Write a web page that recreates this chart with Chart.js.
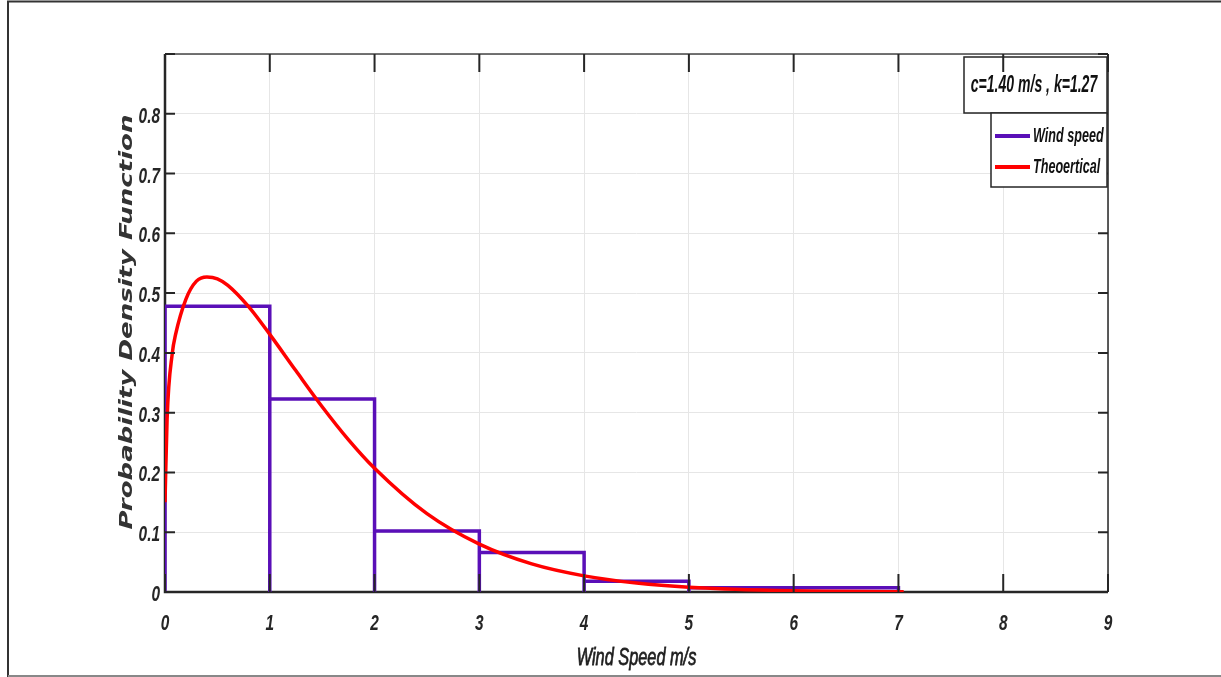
<!DOCTYPE html>
<html>
<head>
<meta charset="utf-8">
<script src="https://cdn.jsdelivr.net/npm/chart.js@4"></script>
<style>
  html, body { margin: 0; padding: 0; background: #fff; }
  canvas { display: block; }
</style>
</head>
<body>
<canvas id="pdfChart" width="1221" height="677"></canvas>
<script>
/* Weibull fit vs. measured wind-speed histogram */

const SANS = "'Liberation Sans', Arial, sans-serif";
const INK = '#262626';
const PURPLE = '#5a0fb8';
const RED = '#ff0000';

// histogram bins (edges in m/s) and their densities
const binEdges = [0, 1, 2, 3, 4, 5, 7];
const binHeights = [0.478, 0.323, 0.102, 0.066, 0.018, 0.007];

// theoretical curve
const curveX = [0, 0.02, 0.07, 0.1, 0.2, 0.3, 0.4, 0.5, 0.6, 0.8, 1.0, 1.25, 1.5, 1.75, 2.0, 2.5, 3.0, 3.5, 4.0, 4.5, 5.0, 6.0, 7.05];
const curveY = [0.15, 0.29, 0.40, 0.43, 0.49, 0.52, 0.527, 0.524, 0.513, 0.477, 0.431, 0.37, 0.31, 0.255, 0.207, 0.131, 0.080, 0.047, 0.027, 0.015, 0.008, 0.002, 0.0006];

const xTicks = [0, 1, 2, 3, 4, 5, 6, 7, 8, 9];
const yTicks = [0, 0.1, 0.2, 0.3, 0.4, 0.5, 0.6, 0.7, 0.8, 0.9];
const yLabels = ['0', '0.1', '0.2', '0.3', '0.4', '0.5', '0.6', '0.7', '0.8', ''];

const annotation = 'c=1.40 m/s , k=1.27';
const xTitle = 'Wind Speed m/s';
const yTitle = 'Probability Density Function';

// outline of the histogram bars as one stepped path
function histOutline() {
  const pts = [];
  for (let i = 0; i < binHeights.length; i++) {
    pts.push({ x: binEdges[i], y: 0 }, { x: binEdges[i], y: binHeights[i] },
             { x: binEdges[i + 1], y: binHeights[i] }, { x: binEdges[i + 1], y: 0 });
  }
  return pts;
}

// the source figure is squeezed sideways, so text is drawn compressed in x
function narrowText(ctx, text, x, y, font, sx, align, heavy) {
  ctx.save();
  ctx.translate(x, y);
  ctx.scale(sx, 1);
  ctx.font = font;
  ctx.textAlign = align;
  ctx.textBaseline = 'alphabetic';
  ctx.fillText(text, 0, 0);
  if (heavy) { ctx.strokeStyle = ctx.fillStyle; ctx.lineWidth = heavy; ctx.strokeText(text, 0, 0); }
  ctx.restore();
}

const decorPlugin = {
  id: 'decor',
  beforeDatasetsDraw(chart) {
    const { ctx, chartArea: a } = chart;
    ctx.save();
    ctx.strokeStyle = '#444'; ctx.lineWidth = 1.5;
    ctx.beginPath(); ctx.moveTo(a.left, a.top); ctx.lineTo(a.right, a.top); ctx.stroke();
    ctx.strokeStyle = INK;
    ctx.beginPath(); ctx.moveTo(a.right, a.top); ctx.lineTo(a.right, a.bottom); ctx.stroke();
    ctx.lineWidth = 2.5;
    ctx.beginPath(); ctx.moveTo(a.left, a.top); ctx.lineTo(a.left, a.bottom); ctx.lineTo(a.right, a.bottom); ctx.stroke();
    ctx.restore();
  },
  afterDatasetsDraw(chart) {
    const { ctx, chartArea: a, scales } = chart;
    ctx.save();

    // y tick marks (left and right, pointing inward) sit under the legend
    ctx.strokeStyle = INK; ctx.lineWidth = 2;
    yTicks.forEach((v) => {
      const py = scales.y.getPixelForValue(v);
      ctx.beginPath();
      ctx.moveTo(a.left, py); ctx.lineTo(a.left + 10, py);
      ctx.moveTo(a.right, py); ctx.lineTo(a.right - 10, py);
      ctx.stroke();
    });

    // parameter box
    ctx.fillStyle = '#fff'; ctx.strokeStyle = INK; ctx.lineWidth = 1.5;
    ctx.fillRect(964, 57, 143, 56); ctx.strokeRect(964, 57, 143, 56);
    ctx.fillStyle = '#111';
    narrowText(ctx, annotation, 1034, 92, `italic bold 23px ${SANS}`, 0.61, 'center');

    // legend box
    ctx.fillStyle = '#fff';
    ctx.fillRect(991, 113, 116, 74); ctx.strokeRect(991, 113, 116, 74);
    chart.data.datasets.forEach((ds, i) => {
      const y = 136 + i * 31;
      ctx.strokeStyle = ds.borderColor; ctx.lineWidth = 4;
      ctx.beginPath(); ctx.moveTo(995, y); ctx.lineTo(1030, y); ctx.stroke();
      ctx.fillStyle = '#111';
      narrowText(ctx, ds.label, 1033, y + 6, `italic bold 21px ${SANS}`, 0.6, 'left');
    });

    // x tick marks (bottom and top, pointing inward)
    ctx.strokeStyle = INK; ctx.lineWidth = 2;
    xTicks.forEach((v) => {
      const px = scales.x.getPixelForValue(v);
      ctx.beginPath();
      ctx.moveTo(px, a.bottom); ctx.lineTo(px, a.bottom - 18);
      ctx.moveTo(px, a.top); ctx.lineTo(px, a.top + 18);
      ctx.stroke();
    });

    // tick labels
    ctx.fillStyle = INK;
    const tickFont = `italic bold 22px ${SANS}`;
    xTicks.forEach((v) => {
      narrowText(ctx, String(v), scales.x.getPixelForValue(v), 630, tickFont, 0.7, 'center');
    });
    yTicks.forEach((v, i) => {
      narrowText(ctx, yLabels[i], a.left - 5, scales.y.getPixelForValue(v) + 9, tickFont, 0.7, 'right');
    });

    // axis titles
    ctx.fillStyle = '#1e1e1e';
    narrowText(ctx, xTitle, (a.left + a.right) / 2, 665, `italic 24px ${SANS}`, 0.68, 'center', 0.8);

    ctx.translate(127, 322);
    ctx.rotate(-Math.PI / 2);
    ctx.scale(1, 0.7);
    ctx.fillStyle = '#333';
    ctx.font = "italic bold 26px 'DejaVu Sans', sans-serif";
    ctx.textAlign = 'center'; ctx.textBaseline = 'middle';
    ctx.fillText(yTitle, 0, 0);
    ctx.restore();

    // outer frame
    ctx.save();
    ctx.strokeStyle = '#333'; ctx.lineWidth = 2;
    ctx.beginPath(); ctx.moveTo(8, 677); ctx.lineTo(8, 1.5); ctx.lineTo(1221, 1.5); ctx.stroke();
    ctx.strokeStyle = '#888';
    ctx.beginPath(); ctx.moveTo(8, 676); ctx.lineTo(1221, 676); ctx.stroke();
    ctx.restore();
  },
};

new Chart(document.getElementById('pdfChart'), {
  type: 'line',
  data: {
    datasets: [
      { label: 'Wind speed', data: histOutline(), borderColor: PURPLE, borderWidth: 3.5,
        pointRadius: 0, tension: 0, order: 1 },
      { label: 'Theoertical', data: curveX.map((x, i) => ({ x, y: curveY[i] })), borderColor: RED,
        borderWidth: 3.5, pointRadius: 0, cubicInterpolationMode: 'monotone', order: 0 },
    ],
  },
  options: {
    responsive: false,
    animation: false,
    layout: { padding: { top: 54, right: 113, left: 0, bottom: 0 } },
    plugins: { legend: { display: false }, tooltip: { enabled: false } },
    scales: {
      x: {
        type: 'linear', min: 0, max: 9,
        afterFit: (s) => { s.height = 85; },
        border: { display: false },
        grid: { color: '#e6e6e6', drawTicks: false },
        ticks: { stepSize: 1, display: false },
      },
      y: {
        min: 0, max: 0.9,
        afterFit: (s) => { s.width = 165; },
        border: { display: false },
        grid: { color: '#e6e6e6', drawTicks: false },
        ticks: { stepSize: 0.1, display: false },
      },
    },
  },
  plugins: [decorPlugin],
});
</script>
</body>
</html>
